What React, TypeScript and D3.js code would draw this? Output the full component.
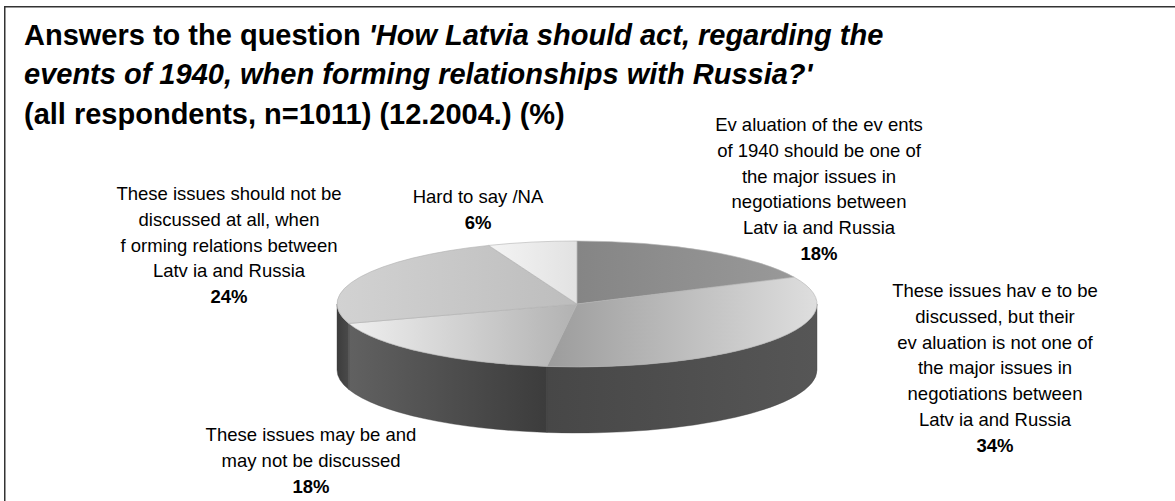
import React from "react";
import * as d3 from "d3";

// ---------- data ----------
const categories = [
  "Evaluation of the events of 1940 should be one of the major issues in negotiations between Latvia and Russia",
  "These issues have to be discussed, but their evaluation is not one of the major issues in negotiations between Latvia and Russia",
  "These issues may be and may not be discussed",
  "These issues should not be discussed at all, when forming relations between Latvia and Russia",
  "Hard to say/NA",
];
const values = [18, 34, 18, 24, 6];
const labelLines = [
  ["Ev aluation of the ev ents", "of 1940 should be one of", "the major issues in", "negotiations between", "Latv ia and Russia"],
  ["These issues hav e to be", "discussed, but their", "ev aluation is not one of", "the major issues in", "negotiations between", "Latv ia and Russia"],
  ["These issues may be and", "may not be discussed"],
  ["These issues should not be", "discussed at all, when", "f orming relations between", "Latv ia and Russia"],
  ["Hard to say /NA"],
];
const titleLine1Plain = "Answers to the question ";
const titleLine1Italic = "'How Latvia should act, regarding the";
const titleLine2Italic = "events of 1940, when forming relationships with Russia?'";
const titleLine3 = "(all respondents, n=1011) (12.2004.) (%)";

// ---------- layout / style ----------
const W = 1175;
const H = 501;
const cx = 577;
const cy = 304;
const rx = 240;
const ry = 63;
const depth = 66;
const FONT = "'Liberation Sans', Arial, sans-serif";
const titleFont = 29;
const titleX = 24;
const titleBaselines = [45, 84, 124];
const labelFont = 18.5;
const lineH = 25.8;
const labelAnchors: [number, number][] = [
  [819, 131],
  [995, 297],
  [311, 441],
  [229, 200],
  [478, 203],
];
const topGrad = [
  ["#858585", "#999999"],
  ["#9c9c9c", "#dedede"],
  ["#efefef", "#b2b2b2"],
  ["#d2d2d2", "#bdbdbd"],
  ["#f4f4f4", "#e2e2e2"],
];
const sideGrad = [
  ["#505050", "#505050"],
  ["#474747", "#565656"],
  ["#616161", "#3c3c3c"],
  ["#3c3c3c", "#4a4a4a"],
  ["#555555", "#555555"],
];

const pt = (a: number, dy = 0): [number, number] => [cx + rx * Math.sin(a), cy - ry * Math.cos(a) + dy];

function topPath(a0: number, a1: number) {
  const p0 = pt(a0);
  const p1 = pt(a1);
  const large = a1 - a0 > Math.PI ? 1 : 0;
  return `M${cx},${cy}L${p0[0]},${p0[1]}A${rx},${ry} 0 ${large} 1 ${p1[0]},${p1[1]}Z`;
}

function sidePath(a0: number, a1: number) {
  const s = Math.max(a0, Math.PI / 2);
  const e = Math.min(a1, (3 * Math.PI) / 2);
  if (e <= s) return null;
  const t0 = pt(s);
  const t1 = pt(e);
  const b0 = pt(s, depth);
  const b1 = pt(e, depth);
  const large = e - s > Math.PI ? 1 : 0;
  return `M${t0[0]},${t0[1]}A${rx},${ry} 0 ${large} 1 ${t1[0]},${t1[1]}L${b1[0]},${b1[1]}A${rx},${ry} 0 ${large} 0 ${b0[0]},${b0[1]}Z`;
}

export default function App() {
  const pie = d3
    .pie<number>()
    .sort(null)
    .startAngle(0)
    .endAngle(2 * Math.PI)
    .value((d) => d);
  const arcs = pie(values);

  return (
    <svg
      width={W}
      height={H}
      style={{ position: "absolute", left: 0, top: 0, background: "#fff" }}
      fontFamily={FONT}
    >
      <defs>
        {arcs.map((a, i) => (
          <linearGradient key={"t" + i} id={"top" + i} x1="0" y1="0" x2="1" y2="0">
            <stop offset="0" stopColor={topGrad[i][0]} />
            <stop offset="1" stopColor={topGrad[i][1]} />
          </linearGradient>
        ))}
        {arcs.map((a, i) => (
          <linearGradient key={"s" + i} id={"side" + i} x1="0" y1="0" x2="1" y2="0">
            <stop offset="0" stopColor={sideGrad[i][0]} />
            <stop offset="1" stopColor={sideGrad[i][1]} />
          </linearGradient>
        ))}
      </defs>
      <rect x={0} y={0} width={W} height={H} fill="#fff" />
      <rect x={4.75} y={6.75} width={W + 40} height={H + 40} fill="none" stroke="#333" strokeWidth={1.5} />

      {/* title */}
      <text x={titleX} y={titleBaselines[0]} fontSize={titleFont} fontWeight="bold" fill="#000">
        <tspan>{titleLine1Plain}</tspan>
        <tspan fontStyle="italic">{titleLine1Italic}</tspan>
      </text>
      <text x={titleX} y={titleBaselines[1]} fontSize={titleFont} fontWeight="bold" fontStyle="italic" fill="#000">
        {titleLine2Italic}
      </text>
      <text x={titleX} y={titleBaselines[2]} fontSize={titleFont} fontWeight="bold" fill="#000">
        {titleLine3}
      </text>

      {/* pie sides */}
      <g>
        {arcs.map((a, i) => {
          const d = sidePath(a.startAngle, a.endAngle);
          return d ? <path key={"side" + i} d={d} fill={`url(#side${i})`} stroke="#444" strokeWidth={0.4} /> : null;
        })}
      </g>
      {/* pie tops */}
      <g>
        {arcs.map((a, i) => (
          <path
            key={"top" + i}
            d={topPath(a.startAngle, a.endAngle)}
            fill={`url(#top${i})`}
            stroke="#b0b0b0"
            strokeWidth={0.6}
            strokeLinejoin="round"
          >
            <title>{categories[i]}</title>
          </path>
        ))}
      </g>

      {/* labels */}
      {arcs.map((a, i) => {
        const [lx, ly] = labelAnchors[i];
        const lines = labelLines[i];
        return (
          <text key={"lab" + i} x={lx} y={ly} textAnchor="middle" fontSize={labelFont} fill="#000">
            {lines.map((l, j) => (
              <tspan key={j} x={lx} y={ly + j * lineH}>
                {l}
              </tspan>
            ))}
            <tspan x={lx} y={ly + lines.length * lineH} fontWeight="bold">
              {`${a.data}%`}
            </tspan>
          </text>
        );
      })}
    </svg>
  );
}
